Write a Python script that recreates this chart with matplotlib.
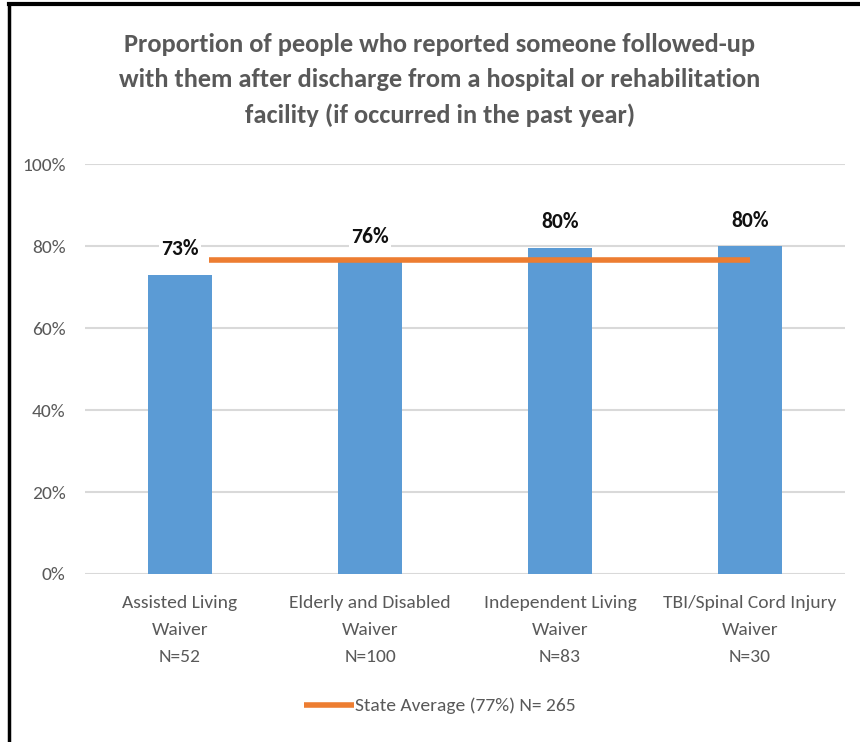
import matplotlib.pyplot as plt
from matplotlib.lines import Line2D

categories = ["Assisted Living\nWaiver\nN=52",
              "Elderly and Disabled\nWaiver\nN=100",
              "Independent Living\nWaiver\nN=83",
              "TBI/Spinal Cord Injury\nWaiver\nN=30"]
values = [0.73, 0.76, 0.796, 0.80]
state_avg = 0.766
state_label = "State Average (77%) N= 265"
yticks = [0, 0.2, 0.4, 0.6, 0.8, 1.0]
title = ("Proportion of people who reported someone followed-up\n"
         "with them after discharge from a hospital or rehabilitation\n"
         "facility (if occurred in the past year)")

plt.rcParams['font.family'] = ['Carlito', 'DejaVu Sans']

gray = "#595959"
blue = "#5b9bd5"
orange = "#ed7d31"

W, H = 860, 742
fig = plt.figure(figsize=(W / 100, H / 100), dpi=100)
ax = fig.add_axes([85 / W, 1 - 574 / H, 760 / W, 410 / H])

x = list(range(len(categories)))
ax.bar(x, values, width=0.337, color=blue, zorder=2)
ax.plot([0.15, 3.0], [state_avg, state_avg], color=orange, lw=4,
        solid_capstyle='butt', zorder=3)

for xi, v in zip(x, values):
    ax.annotate(f"{round(v * 100):d}%", (xi, v), xytext=(0, 11),
                textcoords='offset points', ha='center', va='bottom',
                fontsize=15.5, fontweight='bold', color='#111111', zorder=4,
                bbox=dict(facecolor='white', edgecolor='none', pad=1.5))

ax.set_xlim(-0.5, 3.5)
ax.set_ylim(0, 1.0)
ax.set_yticks(yticks)
ax.set_yticklabels([f"{int(t * 100)}%" for t in yticks], fontsize=14, color=gray)
ax.set_xticks(x)
ax.set_xticklabels(categories, fontsize=14, color=gray, linespacing=1.85)
ax.tick_params(axis='y', length=0, pad=14)
ax.tick_params(axis='x', length=0, pad=15)
ax.grid(axis='y', color='#d9d9d9', lw=1.5, zorder=0)
for s in ax.spines.values():
    s.set_visible(False)

fig.text(440 / W, 1 - 80 / H, title, ha='center', va='center',
         fontsize=19, fontweight='bold', color=gray, linespacing=1.65)

handle = Line2D([], [], color=orange, lw=4, solid_capstyle='butt')
fig.legend([handle], [state_label], loc='center', bbox_to_anchor=(440 / W, 1 - 706 / H),
           frameon=False, fontsize=14, labelcolor=gray, handlelength=2.6,
           handletextpad=0.05)

# frame around the chart area (left and top edges)
fig.add_artist(Line2D([9 / W, 9 / W], [0, 1 - 4 / H], color='black', lw=2.5,
                      transform=fig.transFigure))
fig.add_artist(Line2D([9 / W, 1], [1 - 4 / H, 1 - 4 / H], color='black', lw=3,
                      transform=fig.transFigure))

fig.savefig("out.png", dpi=100, facecolor='white')
